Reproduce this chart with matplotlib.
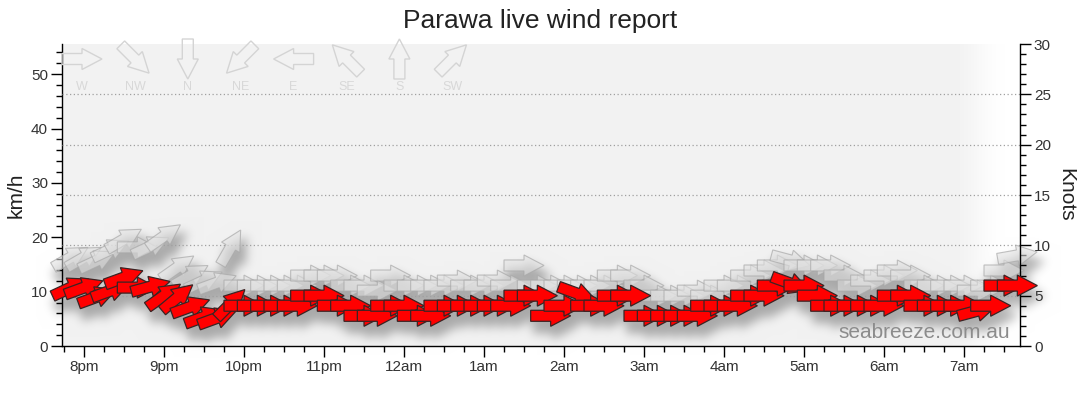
import matplotlib
matplotlib.use('Agg')
import matplotlib.pyplot as plt
import numpy as np
from matplotlib.patches import Polygon
import matplotlib.transforms as mtransforms
from matplotlib.ticker import MultipleLocator, FixedLocator

KMH_PER_KNOT = 1.852

# ---------------- data ----------------
time_labels = ["19:50", "20:00", "20:10", "20:20", "20:30", "20:40", "20:50",
               "21:00", "21:10", "21:20", "21:30", "21:40", "21:50",
               "22:00", "22:10", "22:20", "22:30", "22:40", "22:50",
               "23:00", "23:10", "23:20", "23:30", "23:40", "23:50",
               "00:00", "00:10", "00:20", "00:30", "00:40", "00:50",
               "01:00", "01:10", "01:20", "01:30", "01:40", "01:50",
               "02:00", "02:10", "02:20", "02:30", "02:40", "02:50",
               "03:00", "03:10", "03:20", "03:30", "03:40", "03:50",
               "04:00", "04:10", "04:20", "04:30", "04:40", "04:50",
               "05:00", "05:10", "05:20", "05:30", "05:40", "05:50",
               "06:00", "06:10", "06:20", "06:30", "06:40", "06:50",
               "07:00", "07:10", "07:20", "07:30", "07:40"]

avg_knots = [5.8, 5.8, 4.9, 5.5, 6.8, 5.8, 5.9, 5.0, 4.8, 3.9, 2.9, 2.8, 4.2,
             4, 4, 4, 4, 4, 5, 5, 4, 4, 3, 3, 4,
             4, 3, 3, 4, 4, 4, 4, 4, 4, 5, 5, 3,
             4, 5.2, 4, 4, 5, 5,
             3, 3, 3, 3, 3, 4, 4, 4, 5, 5, 6, 6.2,
             6, 5, 4, 4, 4, 4, 4, 5, 5, 4, 4, 4,
             4, 3.5, 4, 6, 6]

avg_dir = [245, 250, 250, 250, 250, 270, 255, 235, 230, 250, 250, 250, 225,
           270, 270, 270, 270, 270, 270, 270, 270, 270, 270, 270, 270,
           270, 270, 270, 270, 270, 270, 270, 270, 270, 270, 270, 270,
           270, 290, 270, 270, 270, 270,
           270, 270, 270, 270, 270, 270, 270, 270, 270, 270, 270, 290,
           270, 270, 270, 270, 270, 270, 270, 270, 270, 270, 270, 270,
           270, 255, 270, 270, 270]

gust_knots = [8.8, 8.8, 8.5, 9.6, 10.6, 9.8, 9.9, 10.9, 7.8, 7.0, 6.5, 6.3, 9.8,
              6, 6, 6, 6, 6, 7, 7, 7, 6, 6, 5.5, 7,
              6, 6, 6, 6, 6.5, 6, 6, 6.5, 6, 8, 6, 6,
              6, 6, 6, 6, 7, 7,
              6, 5, 5, 5, 5.5, 5, 6, 6, 7, 7.5, 8, 8.5,
              8, 8, 8, 7, 6, 6.5, 7, 7.5, 7, 6, 6, 6,
              6, 5.5, 6, 7.5, 9]

gust_dir = [240, 240, 245, 245, 240, 270, 245, 235, 235, 240, 245, 250, 210,
            270, 270, 270, 270, 270, 270, 270, 270, 270, 270, 270, 270,
            270, 270, 270, 270, 270, 270, 270, 270, 270, 270, 270, 270,
            270, 270, 270, 270, 270, 270,
            270, 270, 270, 270, 270, 270, 270, 270, 270, 270, 270, 285,
            270, 270, 270, 270, 270, 270, 270, 270, 270, 270, 270, 270,
            270, 270, 270, 270, 260]

hour_labels = ['8pm', '9pm', '10pm', '11pm', '12am', '1am', '2am',
               '3am', '4am', '5am', '6am', '7am']
compass_labels = ['W', 'NW', 'N', 'NE', 'E', 'SE', 'S', 'SW']
compass_dirs = [270, 315, 0, 45, 90, 135, 180, 225]
knot_grid = [5, 10, 15, 20, 25]

# --------------- helpers ---------------
def to_hours(lbl):
    h, m = lbl.split(':')
    v = int(h) + int(m) / 60.0
    if v < 12:
        v += 24
    return v - 20.0

xt = np.array([to_hours(t) for t in time_labels])

ARROW = np.array([[-20, -5.5], [0, -5.5], [0, -10.5], [20, 0], [0, 10.5], [0, 5.5], [-20, 5.5]], float)


def screen_angle(d):
    return -90.0 - d


def arrow_tr(axx, x, y, d, dx=0.0, dy=0.0):
    return (mtransforms.Affine2D().rotate_deg(screen_angle(d)).translate(dx, dy)
            + mtransforms.ScaledTranslation(x, y, axx.transData))


W, H = 1080, 414
DPI = 100
FIGSIZE = (W / DPI + 0.0001, H / DPI + 0.0001)
POS = [62 / W, 68 / H, 958 / W, 302 / H]
XLIM = (-0.275, 11.7)

# --------------- shadow mask ---------------
fs = plt.figure(figsize=FIGSIZE, dpi=DPI)
fs.patch.set_facecolor('white')
axs = fs.add_axes(POS)
axs.set_xlim(*XLIM)
axs.set_ylim(0, 30)
axs.axis('off')
for xs, vs, ds in [(xt, gust_knots, gust_dir), (xt, avg_knots, avg_dir)]:
    for x, v, d in zip(xs, vs, ds):
        p = Polygon(ARROW, closed=True, facecolor='black', edgecolor='black', lw=3,
                    transform=arrow_tr(axs, x, v, d, 4, -10), clip_on=False)
        axs.add_patch(p)
fs.canvas.draw()
buf = np.asarray(fs.canvas.buffer_rgba())[:, :, 0].astype(float) / 255.0
plt.close(fs)
mask_full = np.zeros((H, W))
hh, ww = min(H, buf.shape[0]), min(W, buf.shape[1])
mask_full[:hh, :ww] = 1.0 - buf[:hh, :ww]


def gblur(a, sigma):
    r = int(3 * sigma)
    k = np.exp(-0.5 * (np.arange(-r, r + 1) / sigma) ** 2)
    k /= k.sum()
    out = np.zeros_like(a)
    for i, w in zip(range(-r, r + 1), k):
        out += w * np.roll(a, i, axis=0)
    out2 = np.zeros_like(a)
    for i, w in zip(range(-r, r + 1), k):
        out2 += w * np.roll(out, i, axis=1)
    return out2

shadow = gblur(mask_full, 5.0)

# --------------- background ---------------
bg = np.ones((H, W), float)
x0, x1 = 62, 1020
ytop, ybot = 44, 346
cols = np.arange(W)
base = np.full(W, 242 / 255.0)
fade = np.clip((cols - 950) / (1005 - 950), 0, 1)
fade = fade * fade * (3 - 2 * fade)
rowvals = base + (1 - base) * fade
bg[ytop:ybot, x0:x1] = rowvals[x0:x1][None, :]
bg = bg * (1 - 0.30 * shadow)
bg_img = (np.clip(np.dstack([bg, bg, bg]), 0, 1) * 255).astype(np.uint8)

# --------------- main figure ---------------
plt.rcParams['font.family'] = ['Liberation Sans', 'DejaVu Sans']
fig = plt.figure(figsize=FIGSIZE, dpi=DPI)
fig.patch.set_facecolor('white')
fig.figimage(bg_img, xo=0, yo=0, origin='upper', zorder=-1)

ax = fig.add_axes(POS)
ax.set_facecolor('none')
ax.set_xlim(*XLIM)
ax.set_ylim(0, 30 * KMH_PER_KNOT)
ax2 = ax.twinx()
ax2.set_ylim(0, 30)
ax2.set_facecolor('none')

for a in (ax, ax2):
    a.spines['top'].set_visible(False)
ax2.spines['left'].set_visible(False)
ax2.spines['bottom'].set_visible(False)
ax.spines['right'].set_visible(False)
for a in (ax, ax2):
    for s in a.spines.values():
        s.set_color('black')
        s.set_linewidth(1.0)

ax.xaxis.set_major_locator(FixedLocator(range(len(hour_labels))))
ax.set_xticklabels(hour_labels)
ax.xaxis.set_minor_locator(MultipleLocator(0.25))
ax.yaxis.set_major_locator(MultipleLocator(10))
ax.yaxis.set_minor_locator(MultipleLocator(2))
ax2.yaxis.set_major_locator(MultipleLocator(5))
ax2.yaxis.set_minor_locator(MultipleLocator(1))
for a in (ax, ax2):
    a.tick_params(which='major', direction='out', length=8, width=1,
                  color='black', labelsize=11, labelcolor='#333333', pad=2)
    a.tick_params(which='minor', direction='out', length=4, width=1, color='black')
ax.set_ylim(0, 30 * KMH_PER_KNOT)
ax2.set_ylim(0, 30)

for k in knot_grid:
    ax2.axhline(k, color='#a0a0a0', lw=0.9, ls=(0, (1, 2)), zorder=1)

# gust arrows
for x, v, d in zip(xt, gust_knots, gust_dir):
    p = Polygon(ARROW, closed=True, facecolor=(0.89, 0.89, 0.89, 0.55),
                edgecolor=(0.66, 0.66, 0.66, 0.7), lw=0.8,
                transform=arrow_tr(ax2, x, v, d), clip_on=False, zorder=2)
    ax2.add_patch(p)
# average arrows
for x, v, d in zip(xt, avg_knots, avg_dir):
    p = Polygon(ARROW, closed=True, facecolor='#ff0000',
                edgecolor='#3a2424', lw=0.9,
                transform=arrow_tr(ax2, x, v, d), clip_on=False, zorder=3)
    ax2.add_patch(p)

# compass legend
for i, (lbl, d) in enumerate(zip(compass_labels, compass_dirs)):
    cx = 82 + 52.9 * i
    cy = H - 59
    tr = mtransforms.Affine2D().rotate_deg(screen_angle(d)).translate(cx, cy)
    p = Polygon(ARROW, closed=True, facecolor='none', edgecolor='#d4d4d4',
                lw=1.0, transform=tr, clip_on=False, zorder=1.5)
    ax2.add_patch(p)
    fig.text(cx / W, 1 - 87 / H, lbl, ha='center', va='center',
             fontsize=9, color='#d8d8d8')

ax.set_ylabel('km/h', fontsize=15, color='#222222', va='center')
ax.yaxis.set_label_coords((16 - 62) / 958, 0.5)
ax2.set_ylabel('Knots', fontsize=15, color='#222222', rotation=270, va='center')
ax2.yaxis.set_label_coords((1066 - 62) / 958, 0.5)
fig.text(0.5, 1 - 21 / H, 'Parawa live wind report', ha='center', va='center',
         fontsize=19, color='#222222')
fig.text(1010 / W, 76 / H, 'seabreeze.com.au', ha='right', va='baseline',
         fontsize=15, color='#8c8c8c', zorder=5)

fig.savefig('out.png', dpi=DPI, facecolor='white')
